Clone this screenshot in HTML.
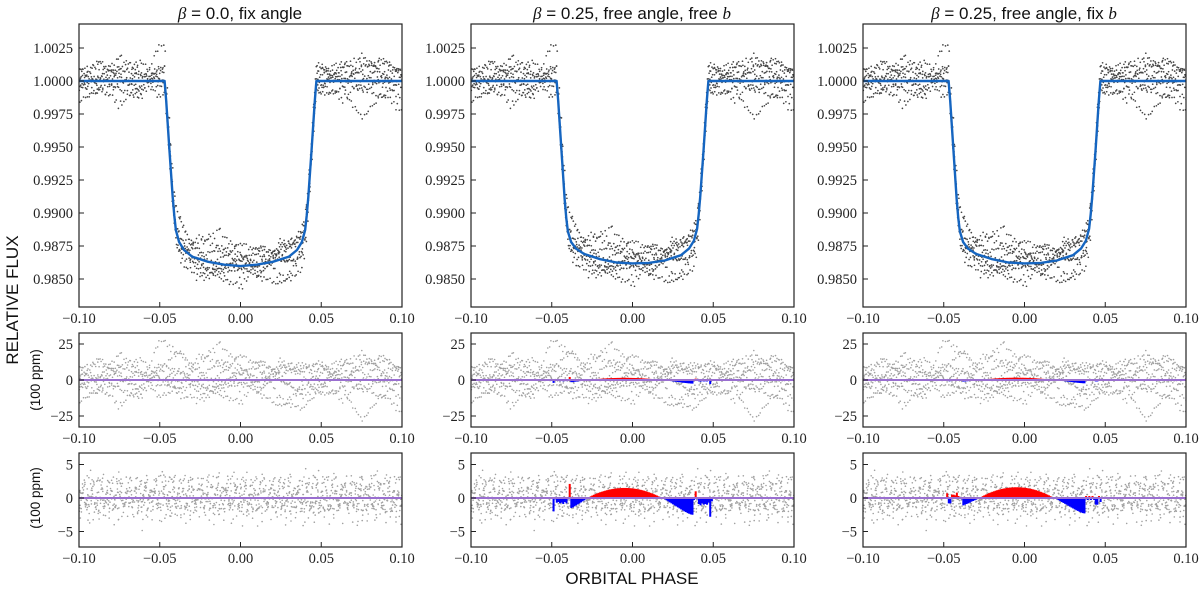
<!DOCTYPE html>
<html><head><meta charset="utf-8">
<style>
html,body{margin:0;padding:0;background:#fff;}
svg{display:block;}
.tk{font-family:"Liberation Serif",serif;font-size:14.5px;fill:#222;}
.ttl{font-family:"Liberation Sans",sans-serif;font-size:17px;fill:#111;}
.lab{font-family:"Liberation Sans",sans-serif;font-size:17px;fill:#111;}
</style></head>
<body>
<svg id="fig" width="1200" height="590" viewBox="0 0 1200 590" xmlns="http://www.w3.org/2000/svg">
<text class="ttl" x="240" y="19" text-anchor="middle"><tspan font-family="Liberation Serif" font-style="italic">β</tspan> = 0.0, fix angle</text>
<text class="ttl" x="632" y="19" text-anchor="middle"><tspan font-family="Liberation Serif" font-style="italic">β</tspan> = 0.25, free angle, free <tspan font-family="Liberation Serif" font-style="italic">b</tspan></text>
<text class="ttl" x="1024" y="19" text-anchor="middle"><tspan font-family="Liberation Serif" font-style="italic">β</tspan> = 0.25, free angle, fix <tspan font-family="Liberation Serif" font-style="italic">b</tspan></text>
<text class="lab" transform="translate(18,300) rotate(-90)" text-anchor="middle">RELATIVE FLUX</text>
<text class="lab" style="font-size:13.5px" transform="translate(40,380) rotate(-90)" text-anchor="middle">(100 ppm)</text>
<text class="lab" style="font-size:13.5px" transform="translate(40,498) rotate(-90)" text-anchor="middle">(100 ppm)</text>
<text class="lab" x="632" y="584" text-anchor="middle">ORBITAL PHASE</text>
</svg>
<script>
// ---- data ----
const xTicks = [-0.10, -0.05, 0.00, 0.05, 0.10];
const xTickLabels = ["−0.10", "−0.05", "0.00", "0.05", "0.10"];
const fluxTicks = [1.0025, 1.0000, 0.9975, 0.9950, 0.9925, 0.9900, 0.9875, 0.9850];
const fluxTickLabels = ["1.0025", "1.0000", "0.9975", "0.9950", "0.9925", "0.9900", "0.9875", "0.9850"];
const midTicks = [25, 0, -25];
const midTickLabels = ["25", "0", "−25"];
const botTicks = [5, 0, -5];
const botTickLabels = ["5", "0", "−5"];

const modelPhase = [-0.1, -0.047, -0.046, -0.044, -0.042, -0.041, -0.040, -0.038, -0.035, -0.030, -0.020, -0.010, 0.0, 0.010, 0.020, 0.030, 0.035, 0.038, 0.040, 0.041, 0.042, 0.044, 0.046, 0.047, 0.1];
const modelFluxA = [1.0, 1.0, 0.9985, 0.9948, 0.9912, 0.9898, 0.9887, 0.9878, 0.9872, 0.9867, 0.9863, 0.98608, 0.98598, 0.98608, 0.9863, 0.9867, 0.9872, 0.9878, 0.9887, 0.9898, 0.9912, 0.9948, 0.9985, 1.0, 1.0];
const modelFluxB = [1.0, 1.0, 0.9985, 0.9948, 0.9910, 0.9896, 0.9886, 0.9878, 0.9873, 0.9869, 0.9865, 0.98625, 0.98618, 0.98622, 0.9864, 0.9868, 0.9873, 0.9879, 0.9888, 0.9899, 0.9913, 0.9948, 0.9985, 1.0, 1.0];

// stellar-variability tracks (100 ppm), nodes every 0.0125 in phase
const trackNodes = [
 [5, 15, 3, -10, 8, 20, 5, -8, 3, 14, 2, -12, -3, 10, 18, 5, -5],
 [-5, 2, 18, 6, -12, -4, 12, 25, 10, -6, 8, 12, -2, -14, -2, 18, 6],
 [10, -4, -18, -6, 12, 5, -6, 4, 18, 8, -14, -20, -6, 8, -4, -12, 2],
 [-15, -6, 8, 15, 2, -10, -15, -4, 8, -2, 10, 6, 12, -4, -28, -10, -22],
 [2, 12, 4, -6, 28, 18, -4, -10, -16, 4, 0, -8, 4, 14, 6, -4, 8],
 [-2, -10, -2, 6, 0, -8, 2, 14, 4, -10, -18, -6, 8, 0, 10, 14, 4],
 [6, 0, 10, 4, -4, 8, -10, -2, -6, 12, 4, 8, 10, 4, -8, 2, -14],
 [-8, 4, -6, -12, 6, -2, 18, 10, -2, -8, 14, 2, -10, -6, 14, 6, 10]
];
// white noise samples (100 ppm)
const noise = [0.8, -1.4, 2.1, -0.3, 1.2, -2.2, 0.4, 1.9, -0.9, -1.7, 0.2, 2.6, -0.6, 1.1, -2.8, 0.9, -0.2, 1.6, -1.1, 0.5, -1.9, 2.3, -0.4, 0.1, -1.3, 1.4, -2.5, 0.7, 1.8, -0.8, 3.2, -0.1, -3.4, 1.0, -0.5, 2.0, -1.6];

// model difference (100 ppm), phases -0.050..0.050 step 0.001
const diffStart = -0.050, diffStep = 0.001;
const diffB = [0, -2.0, -0.2, -0.7, -0.6, -0.8, -0.7, -0.9, -0.6, -0.8, -0.2, 2.1, -1.5, -1.4, -1.25, -1.1, -0.95, -0.8, -0.65, -0.5, -0.35, -0.2, -0.05,
 0.13, 0.25, 0.37, 0.48, 0.58, 0.68, 0.77, 0.86, 0.94, 1.02, 1.09, 1.16, 1.22, 1.27, 1.32, 1.36, 1.40, 1.43, 1.45, 1.47, 1.49, 1.50, 1.50,
 1.50, 1.49, 1.47, 1.45, 1.43, 1.40, 1.36, 1.32, 1.27, 1.22, 1.16, 1.09, 1.02, 0.94, 0.86, 0.77, 0.68, 0.58, 0.48, 0.37, 0.25, 0.13, 0,
 -0.1, -0.2, -0.35, -0.5, -0.65, -0.8, -0.95, -1.1, -1.25, -1.4, -1.55, -1.7, -1.85, -2.0, -2.1, -2.25, -2.35, -2.45, -2.5,
 -0.3, 1.0, -0.2, -0.9, -1.1, -0.8, -1.0, -0.9, -1.0, -0.7, -2.8, -0.5, 0];
const diffC = [0, 0, 0.7, -0.8, -0.8, 0.5, 0.5, 0.4, 0.8, 0.3, 0, -0.2, -1.1, -1.0, -0.9, -0.8, -0.7, -0.55, -0.45, -0.35, -0.25, -0.15, -0.05,
 0.14, 0.27, 0.40, 0.51, 0.62, 0.73, 0.82, 0.92, 1.00, 1.09, 1.17, 1.24, 1.30, 1.36, 1.41, 1.45, 1.50, 1.53, 1.55, 1.57, 1.59, 1.60, 1.60,
 1.60, 1.59, 1.57, 1.55, 1.53, 1.50, 1.45, 1.41, 1.36, 1.30, 1.24, 1.17, 1.09, 1.00, 0.92, 0.82, 0.73, 0.62, 0.51, 0.40, 0.27, 0.14, 0,
 -0.09, -0.18, -0.32, -0.46, -0.6, -0.74, -0.87, -1.0, -1.15, -1.29, -1.43, -1.56, -1.7, -1.84, -1.93, -2.07, -2.16, -2.25, -2.3,
 0.3, -0.3, 0.3, -0.3, 0.3, -0.3, -1.0, -1.0, 0.3, -0.6, 0, 0, 0];

// ---- layout ----
const NS = "http://www.w3.org/2000/svg";
const svg = document.getElementById("fig");
const colX = [79, 471, 863], W = 323;
const rows = {
  top: {y0: 24, y1: 307, map: v => 81 + (1 - v) / 0.0025 * 33},
  mid: {y0: 333, y1: 427, map: v => 380 - v * 36 / 25},
  bot: {y0: 453, y1: 547, map: v => 498 - v * 33.5 / 5}
};
function mk(tag, attrs, parent) {
  const e = document.createElementNS(NS, tag);
  for (const k in attrs) e.setAttribute(k, attrs[k]);
  (parent || svg).appendChild(e);
  return e;
}
function trackVal(t, p) {
  const nodes = trackNodes[t];
  const f = (p + 0.1) / 0.0125;
  const i = Math.min(nodes.length - 2, Math.max(0, Math.floor(f)));
  const r = f - i;
  return nodes[i] * (1 - r) + nodes[i + 1] * r;
}
function modelVal(arr, p) {
  for (let i = 0; i < modelPhase.length - 1; i++) {
    if (p >= modelPhase[i] && p <= modelPhase[i + 1]) {
      const r = (p - modelPhase[i]) / (modelPhase[i + 1] - modelPhase[i]);
      return arr[i] * (1 - r) + arr[i + 1] * r;
    }
  }
  return 1.0;
}

const models = [modelFluxA, modelFluxB, modelFluxB];
const diffs = [null, diffB, diffC];
const pStep = 0.0012;

colX.forEach((x0, c) => {
  const sx = p => x0 + (p + 0.1) / 0.2 * W;
  ["top", "mid", "bot"].forEach((rk, ri) => {
    const R = rows[rk];
    const g = mk("g", {});
    
    
    const cid = "clip" + c + rk;
    const cp = mk("clipPath", {id: cid}, g);
    mk("rect", {x: x0, y: R.y0, width: W, height: R.y1 - R.y0}, cp);
    const pts = mk("g", {"clip-path": "url(#" + cid + ")", fill: rk === "top" ? "#444" : "#a0a0a0"}, g);
    
    
    let k = 0;
    for (let t = 0; t < trackNodes.length; t++) {
      for (let p0 = -0.1; p0 <= 0.1001; p0 += pStep) {
        k++;
        const n = noise[(k * 7 + t * 13) % noise.length];
        const n2 = noise[(k * 11 + t * 5 + 3) % noise.length];
        const p = p0 + t * 0.00015 + n2 * 0.00012;
        let v;
        if (rk === "top") v = modelVal(models[c], p) + (trackVal(t, p) + n) * 1e-4;
        else if (rk === "mid") v = trackVal(t, p) + n * 0.8;
        else v = n * 0.9 + n2 * 0.5 + trackVal(t, p) * 0.04;
        mk("circle", {cx: sx(p).toFixed(1), cy: R.map(v).toFixed(1), r: rk === "top" ? 0.85 : 0.8}, pts);
      }
    }
    // difference fill
    if (rk !== "top" && diffs[c]) {
      const dg = mk("g", {"clip-path": "url(#" + cid + ")"}, g);
      
      
      diffs[c].forEach((d, i) => {
        if (d === 0) return;
        const p = diffStart + i * diffStep;
        const xa = sx(p - diffStep / 2), xb = sx(p + diffStep / 2);
        const y0 = R.map(0), y1 = R.map(d);
        const r = mk("rect", {x: xa.toFixed(2), y: Math.min(y0, y1).toFixed(2), width: (xb - xa + 0.4).toFixed(2), height: Math.max(0.6, Math.abs(y1 - y0)).toFixed(2), fill: d > 0 ? "#ff0000" : "#0000ff"}, dg);
        
        
      });
    }
    // lines
    if (rk === "top") {
      let dstr = "";
      modelPhase.forEach((p, i) => { dstr += (i ? "L" : "M") + sx(p).toFixed(1) + "," + R.map(models[c][i]).toFixed(1); });
      const ln = mk("path", {d: dstr, fill: "none", stroke: "#1565c0", "stroke-width": 2.4, "stroke-linejoin": "round", "clip-path": "url(#" + cid + ")"}, g);
      
      
    } else {
      const zl = mk("line", {x1: x0, x2: x0 + W, y1: R.map(0), y2: R.map(0), stroke: "#9a6fd0", "stroke-width": 2}, g);
      
      
    }
    // frame
    const fr = mk("rect", {x: x0, y: R.y0, width: W, height: R.y1 - R.y0, fill: "none", stroke: "#222", "stroke-width": 1.2}, g);
    
    
    // x ticks
    xTicks.forEach((p, i) => {
      const x = sx(p);
      mk("line", {x1: x, x2: x, y1: R.y1, y2: R.y1 - 5, stroke: "#222", "stroke-width": 1}, g);
      const tl = mk("text", {x: x, y: R.y1 + 16, "text-anchor": "middle", class: "tk"}, g);
      tl.textContent = xTickLabels[i];
      
      
    });
    // y ticks
    const yt = rk === "top" ? fluxTicks : rk === "mid" ? midTicks : botTicks;
    const yl = rk === "top" ? fluxTickLabels : rk === "mid" ? midTickLabels : botTickLabels;
    yt.forEach((v, i) => {
      const y = R.map(v);
      mk("line", {x1: x0, x2: x0 + 5, y1: y, y2: y, stroke: "#222", "stroke-width": 1}, g);
      const tl = mk("text", {x: x0 - 6, y: y + 5, "text-anchor": "end", class: "tk"}, g);
      tl.textContent = yl[i];
      
      
    });
  });
});
</script>
</body></html>
